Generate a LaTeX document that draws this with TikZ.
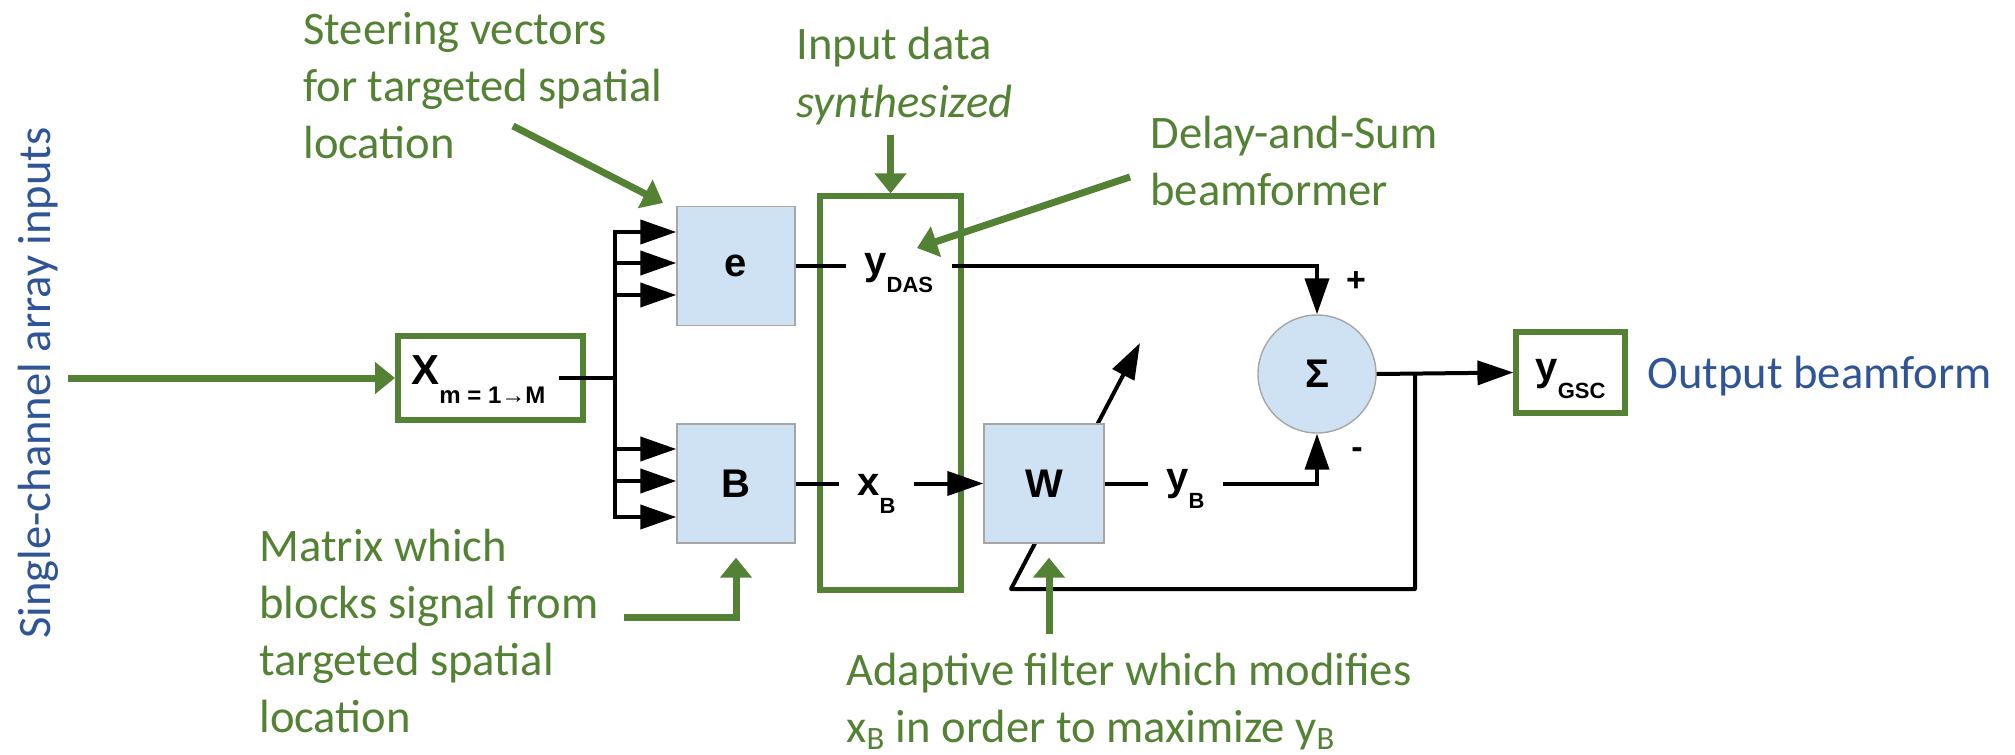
\documentclass[tikz,border=0pt]{standalone}
\usepackage{fontspec}
\setmainfont{Carlito}
\newfontfamily\lblfont{Liberation Sans}
\usetikzlibrary{arrows.meta,backgrounds}
\definecolor{grn}{HTML}{548235}
\definecolor{blu}{HTML}{2F5597}
\definecolor{boxfill}{HTML}{CFE2F3}
\definecolor{boxline}{HTML}{A6A6A6}
\newcommand\sbs[1]{\raisebox{-9pt}{\fontsize{11}{13}\selectfont #1}}
\newcommand\sbsx[1]{\raisebox{-9.5pt}{\fontsize{12}{14}\selectfont #1}}
\begin{document}
\begin{tikzpicture}[x=0.5pt,y=-0.5pt,
  note/.style={text=grn, font=\fontsize{23.3}{28.5}\selectfont, align=left, inner sep=0pt},
  bluenote/.style={text=blu, font=\fontsize{23.3}{28.5}\selectfont, inner sep=0pt},
  blk/.style={draw=boxline, fill=boxfill, line width=0.7pt, minimum width=59pt, minimum height=59.5pt, inner sep=0pt, font=\lblfont\bfseries\fontsize{20}{24}\selectfont},
  gbox/.style={draw=grn, line width=2.6pt, inner sep=0pt},
  lbl/.style={font=\lblfont\bfseries\fontsize{20}{24}\selectfont, inner xsep=9pt, inner ysep=0pt},
  pm/.style={font=\lblfont\bfseries\fontsize{17}{20}\selectfont, inner sep=0pt},
  sig/.style={line width=2pt},
  sarr/.style={sig, -{Triangle[length=18pt,width=12pt]}},
  garr/.style={draw=grn, line width=3.5pt, -{Triangle[length=10pt,width=15.5pt]}}
]
\useasboundingbox (0,0) rectangle (2015,755);

% green frame of synthesized input data
\node[gbox, minimum width=70.5pt, minimum height=197pt] (synth) at (890.5,393) {};

% input box
\node[gbox, line width=3pt, minimum width=92.5pt, minimum height=42pt] (Xbox) at (490.5,378) {};
\node[lbl, anchor=base west, inner xsep=6.5pt, font=\lblfont\bfseries\fontsize{21}{25}\selectfont] (Xlab) at (398,384) {X\sbsx{m = 1→M}};

% blocks
\node[blk] (e) at (736,266) {e};
\node[blk] (B) at (736,483.5) {B};
\node[blk, minimum width=60pt] (W) at (1044,483.5) {W};
\node[circle, draw=boxline, fill=boxfill, line width=0.7pt, minimum size=59pt, inner sep=0pt,
      font=\lblfont\bfseries\fontsize{20}{24}\selectfont] (sum) at (1317,374) {Σ};
\node[gbox, minimum width=54.5pt, minimum height=40.5pt, text height=12pt, text depth=4.5pt,
      font=\lblfont\bfseries\fontsize{20}{24}\selectfont] (gsc) at (1570.5,372.5) {y\sbs{GSC}};

% signal labels
\node[lbl, anchor=base west] (yDAS) at (846,274) {y\sbs{DAS}};
\node[lbl, anchor=base west] (xB) at (839,495) {x\sbs{B}};
\node[lbl, anchor=base west] (yB) at (1148,490) {y\sbs{B}};
\node[pm] (plus) at (1356,282) {+};
\node[pm] (minus) at (1357,453) {-};

% bus
\coordinate (t1) at (615,232);
\coordinate (t2) at (615,263);
\coordinate (t3) at (615,295);
\coordinate (b1) at (615,449);
\coordinate (b2) at (615,481);
\coordinate (b3) at (615,517);
\draw[sig, line cap=rect] (t1) -- (b3);
\draw[sig] (Xlab.east |- Xbox.center) -- (Xbox.center -| t1);
\foreach \c in {t1,t2,t3} \draw[sarr] (\c) -- (e.west |- \c);
\foreach \c in {b1,b2,b3} \draw[sarr] (\c) -- (B.west |- \c);

% signal connectors
\draw[sig] (e.east) -- (yDAS.west |- e.east);
\draw[sarr] (yDAS.east |- e.east) -| (sum.north);
\draw[sig] (B.east) -- (xB.west |- B.east);
\draw[sarr] (xB.east |- B.east) -- (W.west);
\draw[sig] (W.east) -- (yB.west |- W.east);
\draw[sarr] (yB.east |- W.east) -| (sum.south);
\draw[sarr] (sum.east) -- (gsc.west);

% feedback / adaptation arrow (behind W)
\coordinate (fbc) at (1415,589);
\coordinate (fbs) at (1011,589);
\coordinate (adtip) at (1140,343);
\begin{pgfonlayer}{background}
\draw[sarr, line join=round] (sum.east -| fbc) -- (fbc) -- (fbs) -- (adtip);
\end{pgfonlayer}

% annotations (base anchor = baseline of last line)
\node[bluenote, rotate=90, anchor=base] (sci) at (50,383) {Single-channel array inputs};
\node[bluenote, anchor=base west] (outb) at (1647,388) {Output beamform};
\node[note, anchor=base west] (steer) at (303,158) {Steering vectors\\for targeted spatial\\location};
\node[note, anchor=base west] (inp) at (796,117) {Input data\\\textit{synthesized}};
\node[note, anchor=base west] (das) at (1150,205) {Delay-and-Sum\\beamformer};
\node[note, anchor=base west] (mat) at (259,732) {Matrix which\\blocks signal from\\targeted spatial\\location};
\node[note, anchor=base west] (adp) at (846,742) {Adaptive filter which modifies\\x\textsubscript{B} in order to maximize y\textsubscript{B}};

% annotation arrows
\coordinate (in0) at (68,378);
\coordinate (sv0) at (513,126);
\coordinate (svtip) at (663,203);
\coordinate (ia0) at (890.5,135);
\coordinate (das0) at (1130,177);
\coordinate (dastip) at (917,248);
\coordinate (mx0) at (624,617);
\coordinate (ad0) at (1049,634);
\draw[garr] (in0) -- (Xbox.west);
\draw[garr] (sv0) -- (svtip);
\draw[garr] (ia0) -- (synth.north);
\draw[garr] (das0) -- (dastip);
\draw[garr, shorten >=7pt] (mx0) -| (B.south);
\draw[garr, shorten >=7pt] (ad0) -- (ad0 |- W.south);
\end{tikzpicture}
\end{document}
